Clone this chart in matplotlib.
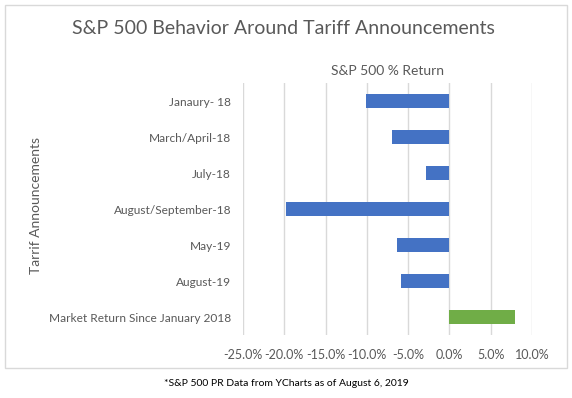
import matplotlib.pyplot as plt
from matplotlib.patches import Rectangle
from matplotlib.ticker import FuncFormatter

plt.rcParams['font.family'] = ['Lato', 'DejaVu Sans']

events = ['Janaury- 18', 'March/April-18', 'July-18', 'August/September-18',
          'May-19', 'August-19', 'Market Return Since January 2018']
returns = [-10.1, -7.0, -2.8, -19.8, -6.4, -5.9, 7.9]
colors = ['#4472C4'] * 6 + ['#70AD47']
xticks = [-25, -20, -15, -10, -5, 0, 5, 10]

text_color = '#595959'
grid_color = '#d9d9d9'

fig = plt.figure(figsize=(5.72, 3.98), dpi=100)
fig.patches.append(Rectangle((5 / 572, 1 - 368 / 398), 562 / 572, 363 / 398,
                             transform=fig.transFigure, fill=False,
                             edgecolor=grid_color, linewidth=1))

ax = fig.add_axes([243 / 572, 1 - 335 / 398, 289 / 572, 252 / 398])
ax.barh(range(len(events)), returns, height=0.4, color=colors, zorder=3)
ax.set_ylim(len(events) - 0.5, -0.5)
ax.set_xlim(-25, 10)
ax.set_xticks(xticks)
ax.xaxis.set_major_formatter(FuncFormatter(lambda v, p: f'{v:.1f}%'))
ax.set_yticks(range(len(events)))
ax.set_yticklabels(events)
ax.grid(axis='x', color=grid_color, linewidth=1, zorder=0)
for s in ax.spines.values():
    s.set_visible(False)
ax.tick_params(length=0, colors=text_color)
ax.tick_params(axis='x', pad=10, labelsize=9)
ax.tick_params(axis='y', pad=8.5, labelsize=8.6)
ax.set_title('S&P 500 % Return', fontsize=10, color=text_color, pad=6)

fig.text(283 / 572, 1 - 28 / 398, 'S&P 500 Behavior Around Tariff Announcements',
         ha='center', va='center', fontsize=14, color=text_color)
fig.text(36 / 572, 1 - 205 / 398, 'Tarrif Announcements', rotation=90,
         ha='center', va='center', fontsize=10, color=text_color)
fig.text(286 / 572, 1 - 383 / 398, '*S&P 500 PR Data from YCharts as of August 6, 2019',
         ha='center', va='center', fontsize=7.5, color='black')

fig.savefig('out.png', dpi=100)
